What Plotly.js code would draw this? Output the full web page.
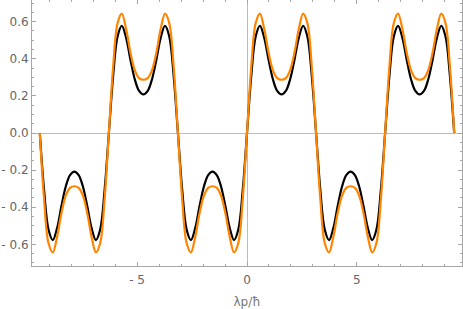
<!DOCTYPE html>
<html>
<head>
<meta charset="utf-8">
<script src="https://cdn.plot.ly/plotly-3.0.1.min.js"></script>
<style>html,body{margin:0;padding:0;background:#fff;}#chart{width:463px;height:309px;}</style>
</head>
<body>
<div id="chart"></div>
<script>
// x positions (λp/ħ), sampled every π/16 from -3π to 3π
var lambdaP = [
-9.425,-9.228,-9.032,-8.836,-8.639,-8.443,-8.247,-8.050,-7.854,-7.658,-7.461,-7.265,-7.069,-6.872,-6.676,-6.480,
-6.283,-6.087,-5.890,-5.694,-5.498,-5.301,-5.105,-4.909,-4.712,-4.516,-4.320,-4.123,-3.927,-3.731,-3.534,-3.338,
-3.142,-2.945,-2.749,-2.553,-2.356,-2.160,-1.963,-1.767,-1.571,-1.374,-1.178,-0.982,-0.785,-0.589,-0.393,-0.196,
0,0.196,0.393,0.589,0.785,0.982,1.178,1.374,1.571,1.767,1.963,2.160,2.356,2.553,2.749,2.945,
3.142,3.338,3.534,3.731,3.927,4.123,4.320,4.516,4.712,4.909,5.105,5.301,5.498,5.694,5.890,6.087,
6.283,6.480,6.676,6.872,7.069,7.265,7.461,7.658,7.854,8.050,8.247,8.443,8.639,8.836,9.032,9.228,9.425
];
// black curve values
var blackValues = [
0,-0.311,-0.519,-0.577,-0.513,-0.395,-0.290,-0.227,-0.208,-0.227,-0.290,-0.395,-0.513,-0.577,-0.519,-0.311,
0,0.311,0.519,0.577,0.513,0.395,0.290,0.227,0.208,0.227,0.290,0.395,0.513,0.577,0.519,0.311,
0,-0.311,-0.519,-0.577,-0.513,-0.395,-0.290,-0.227,-0.208,-0.227,-0.290,-0.395,-0.513,-0.577,-0.519,-0.311,
0,0.311,0.519,0.577,0.513,0.395,0.290,0.227,0.208,0.227,0.290,0.395,0.513,0.577,0.519,0.311,
0,-0.311,-0.519,-0.577,-0.513,-0.395,-0.290,-0.227,-0.208,-0.227,-0.290,-0.395,-0.513,-0.577,-0.519,-0.311,
0,0.311,0.519,0.577,0.513,0.395,0.290,0.227,0.208,0.227,0.290,0.395,0.513,0.577,0.519,0.311,
0
];
// orange curve values
var orangeValues = [
0,-0.360,-0.592,-0.644,-0.560,-0.433,-0.339,-0.296,-0.287,-0.296,-0.339,-0.433,-0.560,-0.644,-0.592,-0.360,
0,0.360,0.592,0.644,0.560,0.433,0.339,0.296,0.287,0.296,0.339,0.433,0.560,0.644,0.592,0.360,
0,-0.360,-0.592,-0.644,-0.560,-0.433,-0.339,-0.296,-0.287,-0.296,-0.339,-0.433,-0.560,-0.644,-0.592,-0.360,
0,0.360,0.592,0.644,0.560,0.433,0.339,0.296,0.287,0.296,0.339,0.433,0.560,0.644,0.592,0.360,
0,-0.360,-0.592,-0.644,-0.560,-0.433,-0.339,-0.296,-0.287,-0.296,-0.339,-0.433,-0.560,-0.644,-0.592,-0.360,
0,0.360,0.592,0.644,0.560,0.433,0.339,0.296,0.287,0.296,0.339,0.433,0.560,0.644,0.592,0.360,
0
];
var xTickVals = [-5, 0, 5];
var xTickText = ['- 5', '0', '5'];
var yTickVals = [-0.6, -0.4, -0.2, 0, 0.2, 0.4, 0.6];
var yTickText = ['- 0.6', '- 0.4', '- 0.2', '0.0', '0.2', '0.4', '0.6'];
var xTitle = 'λp/ħ';

var traces = [
  {x: lambdaP, y: blackValues, mode: 'lines', line: {color: '#000000', width: 2.2, shape: 'spline', smoothing: 1}, hoverinfo: 'skip'},
  {x: lambdaP, y: orangeValues, mode: 'lines', line: {color: '#FF8500', width: 2.2, shape: 'spline', smoothing: 1}, hoverinfo: 'skip'}
];
var axisCommon = {
  showgrid: false,
  showline: true, linecolor: '#a6a6a6', linewidth: 1, mirror: 'ticks',
  ticks: 'inside', ticklen: 4, tickcolor: '#a6a6a6', tickwidth: 1,
  zeroline: true, zerolinecolor: '#bcbcbc', zerolinewidth: 1,
  tickfont: {family: 'DejaVu Sans, sans-serif', size: 12, color: '#666666'}
};
var layout = {
  width: 463, height: 309,
  margin: {l: 32, r: 1, t: 0, b: 43},
  paper_bgcolor: '#ffffff', plot_bgcolor: '#ffffff',
  showlegend: false,
  xaxis: Object.assign({}, axisCommon, {
    range: [-9.78, 9.78], tickmode: 'array', tickvals: xTickVals, ticktext: xTickText,
    ticklabelstandoff: 3,
    minor: {ticks: 'inside', ticklen: 2, dtick: 1, tick0: 0, tickcolor: '#a6a6a6', showgrid: false},
    title: {text: xTitle, font: {family: 'DejaVu Sans, sans-serif', size: 12, color: '#777777'}, standoff: 11}
  }),
  yaxis: Object.assign({}, axisCommon, {
    range: [-0.717, 0.717], tickmode: 'array', tickvals: yTickVals, ticktext: yTickText,
    minor: {ticks: 'inside', ticklen: 2, dtick: 0.05, tick0: 0, tickcolor: '#a6a6a6', showgrid: false}
  })
};
Plotly.newPlot('chart', traces, layout, {staticPlot: true, displayModeBar: false});
</script>
</body>
</html>
